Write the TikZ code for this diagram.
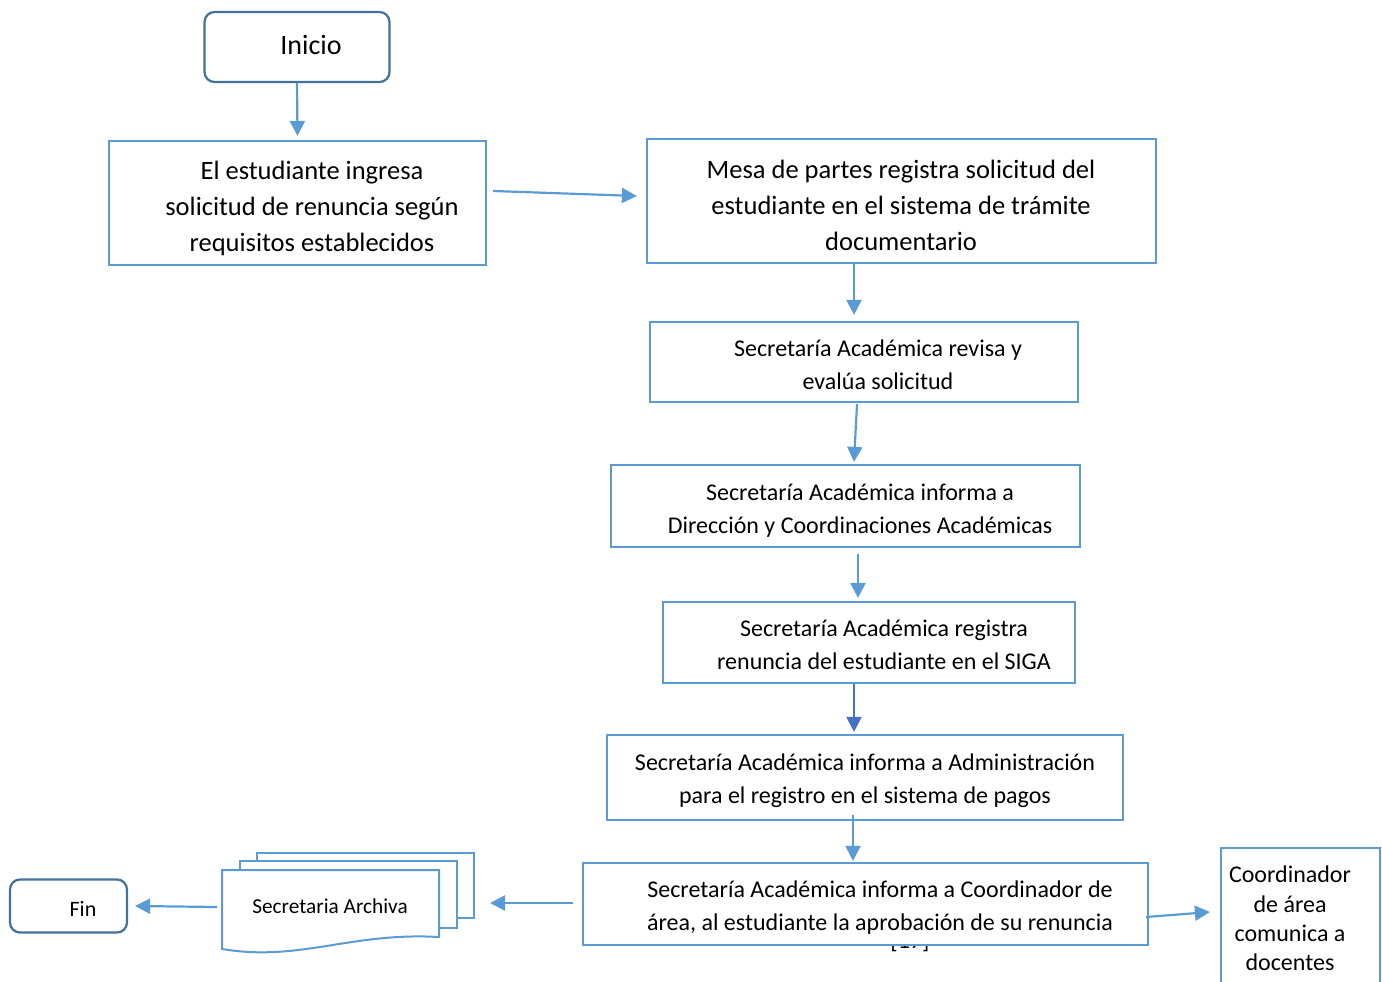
\documentclass[tikz,border=0pt]{standalone}
\usepackage{fontspec}
\setmainfont{Carlito}
\usetikzlibrary{arrows.meta,calc}
\definecolor{boxblue}{HTML}{5B9BD5}
\definecolor{termblue}{HTML}{41719C}
\definecolor{arrdark}{HTML}{4472C4}

\begin{document}
\begin{tikzpicture}[x=1pt,y=-1pt,
  box/.style={draw=boxblue, line width=2.2pt, fill=white, rectangle, inner sep=0pt},
  term/.style={draw=termblue, line width=2.2pt, rounded corners=10pt, fill=white, inner sep=0pt},
  txt/.style={align=center, inner sep=0pt},
  big/.style={font=\fontsize{26.5}{36}\selectfont},
  mid/.style={font=\fontsize{24}{33}\selectfont},
  arr/.style={draw=boxblue, line width=2.2pt, -{Triangle[length=15pt,width=15pt]}},
  docpage/.style={draw=boxblue, line width=2pt, fill=white},
]
\useasboundingbox (0,0) rectangle (1382,982);

% start terminal
\node[term, minimum width=185pt, minimum height=70pt] (inicio) at (297,47) {};
\node[txt, font=\fontsize{28}{34}\selectfont] (tinicio) at (311,45) {Inicio};

% process boxes
\node[box, minimum width=377pt, minimum height=124pt] (b1) at (297.5,203) {};
\node[txt, big] (t1) at (312,208) {El estudiante ingresa\\solicitud de renuncia según\\requisitos establecidos};

\node[box, minimum width=509pt, minimum height=124pt] (b2) at (901.5,201) {};
\node[txt, big] (t2) at (901,205) {Mesa de partes registra solicitud del\\estudiante en el sistema de trámite\\documentario};

\node[box, minimum width=428pt, minimum height=80pt] (b3) at (864,362) {};
\node[txt, mid] (t3) at (878,364.5) {Secretaría Académica revisa y\\evalúa solicitud};

\node[box, minimum width=469pt, minimum height=82pt] (b4) at (845.5,506) {};
\node[txt, mid] (t4) at (860,510.5) {Secretaría Académica informa a\\Dirección y Coordinaciones Académicas};

\node[box, minimum width=412pt, minimum height=81pt] (b5) at (869,642.5) {};
\node[txt, mid] (t5) at (884,644.5) {Secretaría Académica registra\\renuncia del estudiante en el SIGA};

\node[box, minimum width=516pt, minimum height=85pt] (b6) at (865,777.5) {};
\node[txt, mid] (t6) at (865,780.5) {Secretaría Académica informa a Administración\\para el registro en el sistema de pagos};

% page number partly hidden behind the last box
\node[txt, font=\fontsize{24}{28}\selectfont] (pnum) at (910,941) {[17]};

\node[box, minimum width=565pt, minimum height=82pt] (b7) at (865.5,904) {};
\node[txt, mid] (t7) at (880,907.5) {Secretaría Académica informa a Coordinador de\\área, al estudiante la aprobación de su renuncia};

% coordinator box, running off the bottom edge
\node[box, minimum width=159pt, minimum height=170pt] (b8) at (1300.5,933) {};
\node[txt, font=\fontsize{24}{29.3}\selectfont] (t8) at (1290,918.5) {Coordinador\\de área\\comunica a\\docentes};

% stacked documents
\draw[docpage] (257,853) rectangle (474,918);
\draw[docpage] (240,861) rectangle (457,928);
\draw[docpage] (222,870) -- (439,870) -- (439,937)
  .. controls (350,932) and (300,962) .. (222,949) -- cycle;
\node[txt, font=\fontsize{21.3}{26}\selectfont] (archiva) at (330,906) {Secretaria Archiva};
\coordinate (archR) at (474,903);
\coordinate (archL) at (222,907);

% end terminal
\node[term, minimum width=117pt, minimum height=53pt] (fin) at (68.5,906) {};
\node[txt, font=\fontsize{22}{26}\selectfont] (tfin) at (83,909) {Fin};

% connectors
\draw[arr] (inicio.south) -- ([yshift=4pt]b1.north);
\draw[arr] ([xshift=6pt,yshift=12pt]b1.east) -- ([xshift=-9pt,yshift=5pt]b2.west);
\draw[arr] (b2.south -| 854,0) -- ([yshift=6pt]b3.north -| 854,0);
\draw[arr] ([yshift=-1pt]b3.south -| 857,0) -- ([yshift=2pt]b4.north -| 854,0);
\draw[arr] ([yshift=-6pt]b4.south -| 858,0) -- ([yshift=3pt]b5.north -| 858,0);
\draw[arr, draw=arrdark] (b5.south -| 854,0) -- ([yshift=2pt]b6.north -| 854,0);
\draw[arr] ([yshift=6pt]b6.south -| 853,0) -- ([yshift=1pt]b7.north -| 853,0);
\draw[arr] ([xshift=-3pt,yshift=-13pt]b7.east) -- ([xshift=-10pt,yshift=21pt]b8.west);
\draw[arr] ([xshift=-9pt,yshift=1pt]b7.west) -- ([xshift=16pt]archR);
\draw[arr] ([xshift=-5pt]archL) -- ([xshift=7pt]fin.east);
\end{tikzpicture}
\end{document}
